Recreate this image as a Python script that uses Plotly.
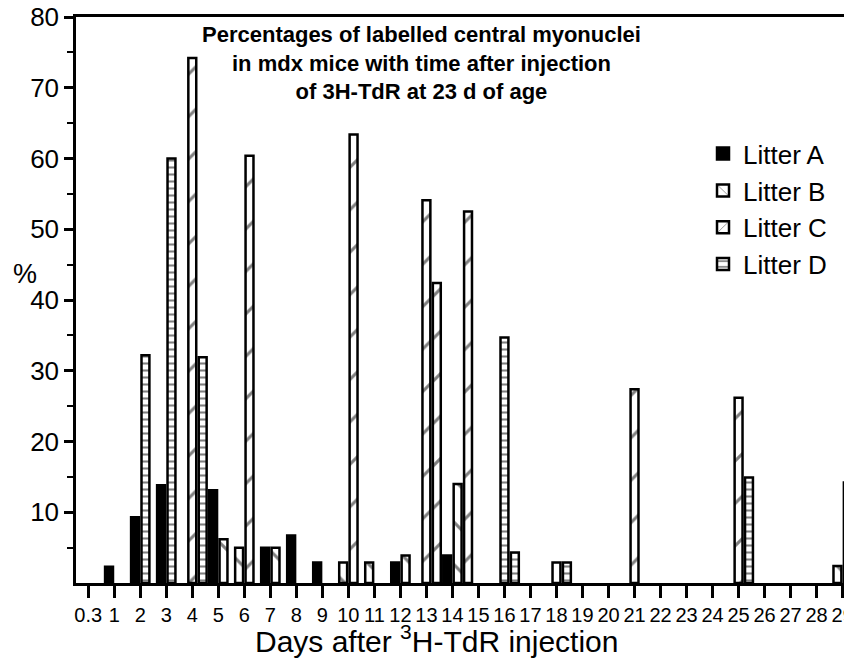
import plotly.graph_objects as go

# ---------------- data ----------------
day_labels = ["0.3", "1", "2", "3", "4", "5", "6", "7", "8", "9", "10", "11", "12", "13", "14",
              "15", "16", "17", "18", "19", "20", "21", "22", "23", "24", "25", "26", "27", "28", "29"]

litter_a_days = ["1", "2", "3", "5", "7", "8", "9", "12", "14"]
litter_a_vals = [2.3, 9.3, 13.8, 13.1, 5.0, 6.7, 2.9, 2.9, 3.9]

litter_b_days = ["5", "6", "7", "10", "11", "12", "14", "29"]
litter_b_vals = [6.2, 5.0, 5.0, 2.9, 2.9, 3.9, 14.0, 2.4]

litter_c_days = ["4", "6", "10", "13", "13", "14", "18", "21", "25"]
litter_c_vals = [74.2, 60.4, 63.4, 54.1, 42.4, 52.5, 2.9, 27.4, 26.2]

litter_d_days = ["2", "3", "4", "16", "16", "18", "25", "29"]
litter_d_vals = [32.2, 60.0, 31.9, 34.7, 4.3, 2.9, 14.9, 14.2]

litter_names = ["Litter A", "Litter B", "Litter C", "Litter D"]
y_ticks = [10, 20, 30, 40, 50, 60, 70, 80]
y_minor = [5, 15, 25, 35, 45, 55, 65, 75]

# ---------------- layout of bars within each day ----------------
FONT = "Liberation Sans, Arial, Helvetica, sans-serif"
SLOT = 0.40          # slot width per bar (category units)
LW = 2.5             # outline width (px)
PX_PER_UNIT = 26.03
W = SLOT - LW / PX_PER_UNIT

series = [
    (litter_a_days, litter_a_vals),
    (litter_b_days, litter_b_vals),
    (litter_c_days, litter_c_vals),
    (litter_d_days, litter_d_vals),
]

groups = {}
for s, (days, vals) in enumerate(series):
    for i, d in enumerate(days):
        groups.setdefault(d, []).append((s, i))

slot_start = {}
for d, members in groups.items():
    start = -SLOT if members[0][0] in (0, 1) else -SLOT / 2
    for j, key in enumerate(members):
        slot_start[key] = start + j * SLOT

styles = [
    dict(color="black", pattern=None),
    dict(color="white", pattern=dict(shape="\\", fgcolor="black", bgcolor="white", size=30, solidity=0.1)),
    dict(color="white", pattern=dict(shape="/", fgcolor="black", bgcolor="white", size=30, solidity=0.1)),
    dict(color="white", pattern=dict(shape="-", fgcolor="black", bgcolor="white", size=7, solidity=0.3)),
]

fig = go.Figure()
for s, (days, vals) in enumerate(series):
    xs = [day_labels.index(d) for d in days]
    offs = [slot_start[(s, i)] + (SLOT - W) / 2 for i in range(len(days))]
    marker = dict(color=styles[s]["color"], line=dict(color="black", width=LW))
    if styles[s]["pattern"]:
        marker["pattern"] = styles[s]["pattern"]
    fig.add_trace(go.Bar(x=xs, y=vals, offset=offs, width=W, name=litter_names[s],
                         marker=marker))

# the page body has an 8px default margin; the figure is offset accordingly
fig.update_layout(
    width=852, height=665,
    margin=dict(l=67.5, r=8, t=8.5, b=89.5, autoexpand=False),
    barmode="overlay",
    plot_bgcolor="white", paper_bgcolor="white",
    font=dict(family=FONT, color="black"),
    showlegend=True,
    legend=dict(x=0.808, y=0.80, xanchor="left", yanchor="top", traceorder="normal",
                bgcolor="rgba(0,0,0,0)", font=dict(size=26, family=FONT)),
    xaxis=dict(range=[-0.47, 29.36], tickmode="array", tickvals=list(range(len(day_labels))),
               ticktext=day_labels, tickangle=0, ticks="outside", ticklen=12, tickwidth=2.5,
               tickcolor="black", showline=True, linecolor="black", linewidth=2.5, mirror=True,
               showgrid=False, zeroline=False, automargin=False, ticklabeloverflow="allow",
               tickfont=dict(size=20, family=FONT)),
    yaxis=dict(range=[0, 80], tickmode="array", tickvals=y_ticks, ticks="outside", ticklen=9,
               tickwidth=2.5, tickcolor="black", showline=True, linecolor="black", linewidth=2.5,
               showgrid=False, zeroline=False, automargin=False, ticklabeloverflow="allow",
               tickfont=dict(size=26, family=FONT),
               minor=dict(tickmode="array", tickvals=y_minor, ticks="outside", ticklen=6,
                          tickwidth=2, tickcolor="black", showgrid=False)),
    annotations=[
        dict(text="<b>Percentages of labelled central myonuclei<br>in mdx mice with time after injection"
                  "<br>of 3H-TdR at 23 d of age</b>",
             xref="paper", yref="paper", x=0.445, y=0.994, xanchor="center", yanchor="top",
             showarrow=False, font=dict(size=22, family=FONT), align="center"),
        dict(text="%", xref="paper", yref="paper", x=-0.066, y=0.546, xanchor="center",
             yanchor="middle", showarrow=False, font=dict(size=27, family=FONT)),
        dict(text="Days after <sup>3</sup>H-TdR injection", xref="paper", yref="paper",
             x=0.465, y=-0.0996, xanchor="center", yanchor="middle", showarrow=False,
             font=dict(size=30, family=FONT)),
    ],
)

fig.write_html("out.html")
